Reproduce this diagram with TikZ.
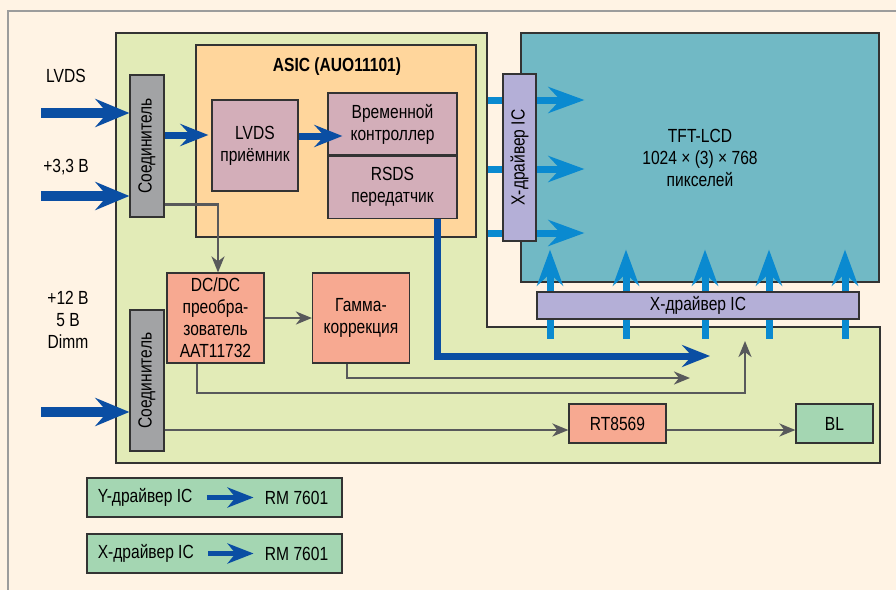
\documentclass[tikz,border=0pt]{standalone}
\usepackage{fontspec}
\setmainfont{Liberation Sans}[FakeStretch=0.82]
\usepackage{graphicx}
\usepackage{tikz}
\usetikzlibrary{arrows.meta, positioning, calc}
\definecolor{cream}{HTML}{FFF3E4}
\definecolor{framegray}{HTML}{9C9C9C}
\definecolor{boardgreen}{HTML}{E2EBB7}
\definecolor{asicorange}{HTML}{FFD69C}
\definecolor{chippink}{HTML}{D3AEB9}
\definecolor{conngray}{HTML}{A2A3A5}
\definecolor{salmon}{HTML}{F7A991}
\definecolor{lcdblue}{HTML}{71B9C5}
\definecolor{lavender}{HTML}{B4AFD7}
\definecolor{leggreen}{HTML}{A4D6B2}
\definecolor{darkblue}{HTML}{0A4EA3}
\definecolor{lightblue}{HTML}{0A8AD0}
\definecolor{wiregray}{HTML}{58595B}
\definecolor{boxline}{HTML}{333333}
\tikzstyle{block} = [draw=boxline, line width=0.6pt, rectangle, inner sep=0pt, align=center, font=\fontsize{9.5}{11}\selectfont]
\tikzstyle{conn} = [block, fill=conngray, minimum width=17pt, minimum height=71pt]
\tikzstyle{chip} = [block, fill=chippink]
\tikzstyle{power} = [block, fill=salmon, minimum width=48.5pt]
\tikzstyle{driver} = [block, fill=lavender]
\tikzstyle{legbox} = [block, fill=leggreen, minimum width=127.5pt, minimum height=19.5pt]
\tikzstyle{txt} = [inner sep=0pt, align=center, font=\fontsize{9.5}{11}\selectfont]
\tikzstyle{bigarrow} = [draw=darkblue, line width=5pt, -{Stealth[length=17pt, width=14pt, inset=6pt]}]
\tikzstyle{midarrow} = [draw=darkblue, line width=3.5pt, -{Stealth[length=14pt, width=11pt, inset=5pt]}]
\tikzstyle{bluearrow} = [draw=lightblue, line width=3.5pt, -{Stealth[length=18pt, width=13pt, inset=6pt]}]
\tikzstyle{legarrow} = [draw=darkblue, line width=2.5pt, -{Stealth[length=13pt, width=10pt, inset=4pt]}]
\tikzstyle{wire} = [draw=wiregray, line width=1.2pt]
\tikzstyle{wirearrow} = [wire, -{Stealth[length=8pt, width=6.5pt, inset=2.5pt]}]

\begin{document}
\begin{tikzpicture}[x=0.5pt, y=-0.5pt]
    \useasboundingbox (0,0) rectangle (896,590);
    \fill[cream] (0,0) rectangle (896,590);
    \draw[framegray, line width=1.2pt] (8,590) -- (8,11) -- (896,11);
    % board
    \draw[fill=boardgreen, draw=boxline, line width=0.6pt] (116,33) -- (487,33) -- (487,327) -- (880,327) -- (880,463) -- (116,463) -- cycle;

    % panel and drivers
    \node (lcd) [block, fill=lcdblue, minimum width=179pt, minimum height=124.5pt] at (700,157.5) {TFT-LCD\\1024 × (3) × 768\\пикселей};
    \foreach \yy in {100,169,233}
        \draw[bluearrow] ($(lcd.west |- 0,\yy)+(-32,0)$) -- ($(lcd.west |- 0,\yy)+(64,0)$);
    \foreach \xx in {550,626,705,769,845}
        \draw[bluearrow] ($(lcd.south -| \xx,0)+(0,56)$) -- ($(lcd.south -| \xx,0)+(0,-33)$);
    \node (ydrv) [driver, minimum width=16.5pt, minimum height=83.5pt] at (519.5,157.5) {\rotatebox{90}{X-драйвер IC}};
    \node (xdrv) [driver, minimum width=161pt, minimum height=13.5pt] at (698,305.5) {X-драйвер IC};

    % ASIC
    \node (asic) [block, fill=asicorange, minimum width=140pt, minimum height=96pt] at (336,141) {};
    \node (asictitle) [txt, font=\fontsize{9.5}{11}\selectfont\bfseries] at (337,67) {ASIC (AUO11101)};
    \node (lvdsrx) [chip, minimum width=43pt, minimum height=45.5pt] at (255,145.5) {LVDS\\приёмник};
    \node (tcon) [chip, minimum width=64.5pt, minimum height=31pt] at (392.5,124) {Временной\\контроллер};
    \node (rsds) [chip, minimum width=64.5pt, minimum height=31pt, below=0pt of tcon] {RSDS\\передатчик};

    % connectors and power
    \node (conn1) [conn] at (147,146) {\rotatebox{90}{Соединитель}};
    \node (conn2) [conn, minimum height=70.5pt] at (147,380.5) {\rotatebox{90}{Соединитель}};
    \node (dcdc) [power, minimum height=45pt] at (215.5,318) {DC/DC\\преобра-\\зователь\\AAT11732};
    \node (gamma) [power, minimum height=45pt] at (361,318) {Гамма-\\коррекция};
    \node (rt) [power, minimum height=19.5pt] at (617.5,423.5) {RT8569};
    \node (bl) [block, fill=leggreen, minimum width=38.5pt, minimum height=19.5pt] at (834.5,423.5) {BL};

    % inputs
    \node (lvdsin) [txt] at (66,76) {LVDS};
    \node (v33) [txt] at (66,167) {+3,3 В};
    \node (v12) [txt] at (68,320) {+12 В\\5 В\\Dimm};
    \coordinate (in1) at (41,113);
    \coordinate (in2) at (41,196);
    \coordinate (in3) at (41,412);
    \draw[bigarrow] (in1) -- (conn1.west |- in1);
    \draw[bigarrow] (in2) -- (conn1.west |- in2);
    \draw[bigarrow] (in3) -- (conn2.west |- in3);

    \draw[midarrow] (conn1.east |- 0,135) -- ($(lvdsrx.west |- 0,135)+(-3,0)$);
    \draw[midarrow] (lvdsrx.east |- 0,136) -- ($(tcon.west |- 0,136)+(15,0)$);

    % wires
    \coordinate (rend) at (710,356);
    \coordinate (gend) at (690,378);
    \coordinate (dturn) at (745,393);
    \coordinate (dend) at (745,341);
    \draw[midarrow] ($(rsds.south)+(44.5,0)$) |- (rend);
    \draw[wirearrow] ($(conn1.south east)+(0,-13)$) -| ($(dcdc.north)+(2.5,0)$);
    \draw[wirearrow] (dcdc) -- (gamma);
    \draw[wirearrow] ($(gamma.south)+(-14,0)$) |- (gend);
    \draw[wirearrow] ($(dcdc.south)+(-18.5,0)$) |- (dturn) -- (dend);
    \draw[wirearrow] (conn2.east |- 0,430) -- (rt.west |- 0,430);
    \draw[wirearrow] (rt.east |- 0,430) -- (bl.west |- 0,430);

    % legend
    \node (leg1) [legbox] at (214.5,497.5) {};
    \node (ytxt) [txt, anchor=west] at ($(leg1.west)+(11,0)$) {Y-драйвер IC};
    \node (yrm) [txt, anchor=east] at ($(leg1.east)+(-14,0)$) {RM 7601};
    \draw[legarrow, shorten <=7pt, shorten >=5.5pt] (ytxt) -- (yrm);
    \node (leg2) [legbox] at (214.5,553.5) {};
    \node (xtxt) [txt, anchor=west] at ($(leg2.west)+(11,0)$) {X-драйвер IC};
    \node (xrm) [txt, anchor=east] at ($(leg2.east)+(-14,0)$) {RM 7601};
    \draw[legarrow, shorten <=7pt, shorten >=5.5pt] (xtxt) -- (xrm);
\end{tikzpicture}
\end{document}
